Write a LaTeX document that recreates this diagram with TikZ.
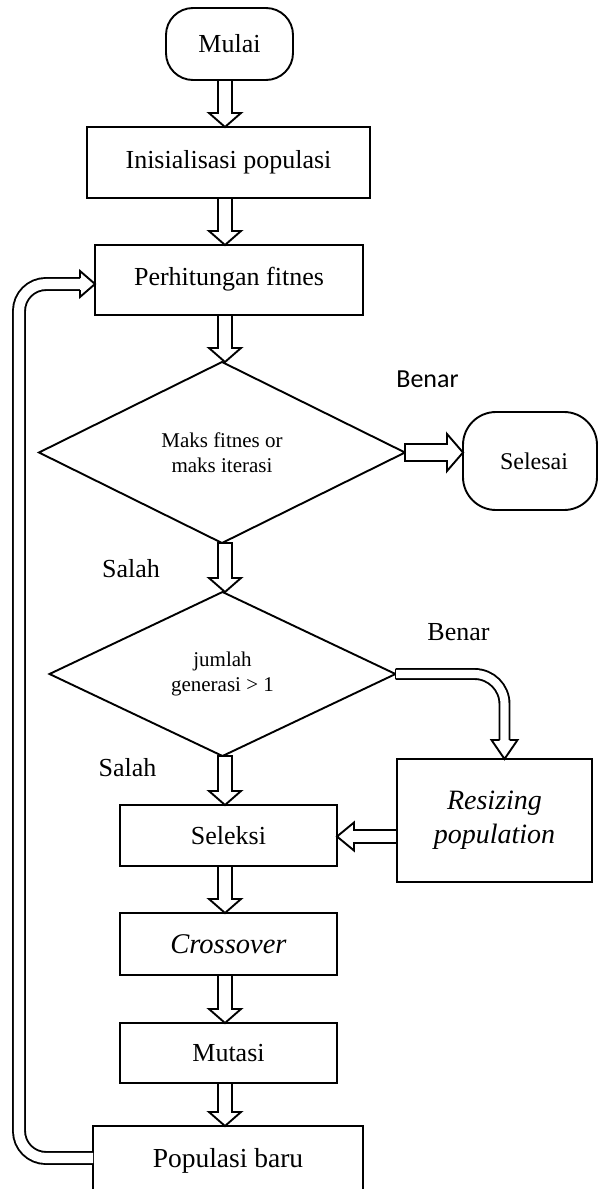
\documentclass[tikz,border=0pt]{standalone}
\usepackage{fontspec}
\setmainfont{Liberation Serif}
\newfontfamily\calibrifont{Carlito}
\usetikzlibrary{shapes.geometric,calc}
\tikzset{
 every node/.style={outer sep=0pt},
 box/.style={draw, line width=1.9pt, rectangle, inner sep=0pt, align=center, font=\fontsize{26}{30}\selectfont},
 term/.style={box, rounded corners=#1},
 dec/.style={draw, line width=1.9pt, diamond, inner sep=0pt, align=center, font=\fontsize{21}{25}\selectfont},
 lbl/.style={anchor=base, inner sep=0pt, font=\fontsize{26}{30}\selectfont},
 fatline/.style={draw, fill=white, line width=1.9pt, line join=miter},
 dbl/.style={draw, line width=1.9pt, double=white, double distance=#1},
}
\newcommand\fatarrow[5]{%
 \coordinate (fas) at (#1);
 \coordinate (fae) at (#2);
 \coordinate (fab) at ($(fae)!#5!(fas)$);
 \filldraw[fatline] ($(fas)!#3!90:(fae)$) -- ($(fab)!#3!90:(fae)$) -- ($(fab)!#4!90:(fae)$) -- (fae) -- ($(fab)!#4!-90:(fae)$) -- ($(fab)!#3!-90:(fae)$) -- ($(fas)!#3!-90:(fae)$) -- cycle;
}
\newcommand\fathead[4]{%
 \coordinate (fhb) at (#1);
 \coordinate (fht) at (#2);
 \filldraw[fatline] ($(fhb)!#3!90:(fht)$) -- ($(fhb)!#4!90:(fht)$) -- (fht) -- ($(fhb)!#4!-90:(fht)$) -- ($(fhb)!#3!-90:(fht)$);
}
\begin{document}
\begin{tikzpicture}[x=1pt,y=-1pt]
\useasboundingbox (0,0) rectangle (598,1189);
\node[term=27pt, minimum width=127pt, minimum height=72pt] (mulai) at (229.5,44) {Mulai};
\node[box, minimum width=283pt, minimum height=71pt] (init) at (228.5,162.5) {\raisebox{2pt}{Inisialisasi populasi}};
\node[box, minimum width=268pt, minimum height=70pt] (fit) at (229,280) {\raisebox{7pt}{Perhitungan fitnes}};
\node[dec, minimum width=366pt, minimum height=181pt] (d1) at (222,452.5) {Maks fitnes or\\maks iterasi};
\node[term=33pt, minimum width=134pt, minimum height=98pt, font=\fontsize{24}{28}\selectfont] (end) at (530,461) {\hspace*{8pt}Selesai};
\node[dec, minimum width=346pt, minimum height=164pt] (d2) at (222.5,674) {jumlah\\generasi > 1};
\node[box, minimum width=195pt, minimum height=123pt, font=\fontsize{28}{34}\selectfont\itshape] (res) at (494.5,820.5) {Resizing\\population};
\node[box, minimum width=217pt, minimum height=61pt] (sel) at (228.5,835.5) {Seleksi};
\node[box, minimum width=217pt, minimum height=62pt, font=\fontsize{28.5}{32}\selectfont\itshape] (cross) at (228.5,944) {Crossover};
\node[box, minimum width=217pt, minimum height=60pt] (mut) at (228.5,1053) {Mutasi};
\node[box, minimum width=270pt, minimum height=70pt, font=\fontsize{27.5}{32}\selectfont] (pop) at (228,1161) {\raisebox{4pt}{Populasi baru}};
% labels
\node[lbl, font=\calibrifont\fontsize{26}{30}\selectfont] (benar1) at (427.5,387) {Benar};
\node[lbl] (salah1) at (131,577) {Salah};
\node[lbl] (benar2) at (458.5,640) {Benar};
\node[lbl] (salah2) at (127.5,776) {Salah};
% straight arrows
\coordinate (ax) at (225,0);
\fatarrow{ax |- mulai.south}{ax |- init.north}{7pt}{16pt}{14pt}
\fatarrow{ax |- init.south}{ax |- fit.north}{7pt}{16pt}{14pt}
\fatarrow{ax |- fit.south}{ax |- d1.north}{7pt}{16pt}{14pt}
\fatarrow{ax |- d1.south}{ax |- d2.north}{7pt}{16pt}{14pt}
\fatarrow{ax |- d2.south}{ax |- sel.north}{7pt}{16pt}{14pt}
\fatarrow{ax |- sel.south}{ax |- cross.north}{7pt}{16pt}{14pt}
\fatarrow{ax |- cross.south}{ax |- mut.north}{7pt}{16pt}{14pt}
\fatarrow{ax |- mut.south}{ax |- pop.north}{7pt}{16pt}{14pt}
\fatarrow{d1.east}{d1.east -| end.west}{8.5pt}{18.5pt}{16pt}
\coordinate (ry) at (0,836.5);
\fatarrow{res.west |- ry}{sel.east |- ry}{6.5pt}{14pt}{17pt}
% curved arrow to resizing
\coordinate (rx) at (504.5,0);
\draw[dbl=8.1pt, rounded corners=30pt] (d2.east) -- (rx |- d2.east) -- ($(rx |- res.north)+(0,-19)$);
\draw[line width=1.9pt] ($(d2.east)+(0,-5)$) -- ($(d2.east)+(0,5)$);
\fathead{$(rx |- res.north)+(0,-19)$}{rx |- res.north}{5pt}{13pt}
% loop back
\coordinate (lx) at (19,0);
\coordinate (ly1) at (0,1158);
\coordinate (ly2) at (0,284);
\draw[dbl=10.1pt, rounded corners=27pt] (pop.west |- ly1) -- (lx |- ly1) -- (lx |- ly2) -- ($(fit.west |- ly2)+(-15,0)$);
\fathead{$(fit.west |- ly2)+(-15,0)$}{fit.west |- ly2}{6pt}{13pt}
\end{tikzpicture}
\end{document}
